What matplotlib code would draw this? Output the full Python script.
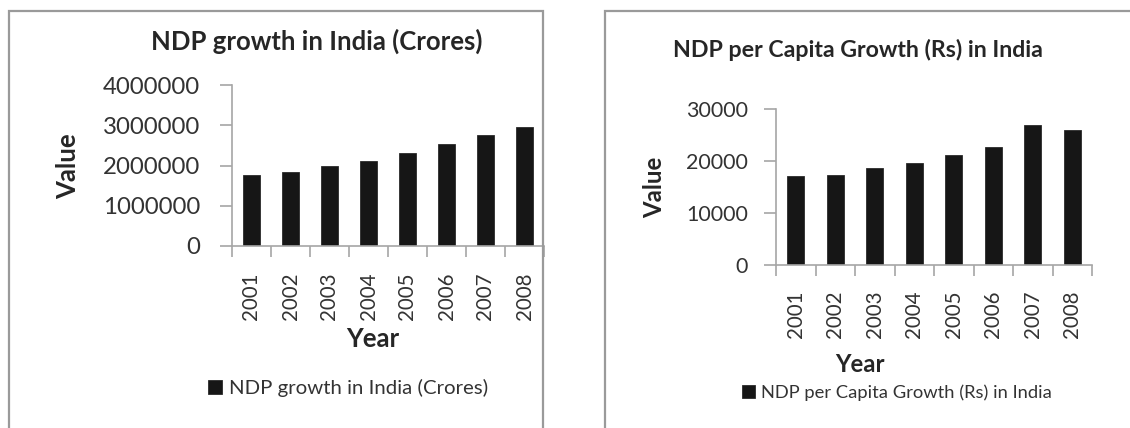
import matplotlib
matplotlib.use("Agg")
import matplotlib.pyplot as plt
from matplotlib.lines import Line2D

W, H = 1130, 428

years = ["2001", "2002", "2003", "2004", "2005", "2006", "2007", "2008"]
ndp_crores = [1765000, 1830000, 1990000, 2110000, 2320000, 2540000, 2770000, 2950000]
ndp_per_capita = [17100, 17400, 18600, 19550, 21100, 22750, 27000, 25950]

left_ticks = [0, 1000000, 2000000, 3000000, 4000000]
right_ticks = [0, 10000, 20000, 30000]

AXIS_GREY = "#a6a6a6"
FRAME_GREY = "#9a9a9a"
TEXT = "#333333"
BAR = "#161616"

plt.rcParams["font.family"] = ["Lato", "DejaVu Sans"]


def fx(x):
    return x / W


def fy(y):
    return 1 - y / H


def frame(fig, x0, y0, x1, y1):
    # grey chart-area border, drawn in image pixel coordinates
    xs = [fx(x0), fx(x0), fx(x1), fx(x1)]
    ys = [fy(y1), fy(y0), fy(y0), fy(y1)]
    fig.add_artist(Line2D(xs, ys, transform=fig.transFigure,
                          color=FRAME_GREY, lw=1.6, solid_joinstyle="miter"))


def bar_panel(fig, rect, values, ticks, title, legend_text, sizes, spots):
    left, top, right, bottom = rect
    ax = fig.add_axes([fx(left), fy(bottom), fx(right) - fx(left), (bottom - top) / H])
    n = len(values)
    xs = list(range(n))
    bars = ax.bar(xs, values, width=0.42, color=BAR, edgecolor="#2a2a2a", lw=0.6,
                  label=legend_text)
    ax.set_xlim(-0.5, n - 0.5)
    ax.set_ylim(0, ticks[-1])
    ax.set_yticks(ticks)
    ax.set_yticklabels([str(t) for t in ticks], fontsize=sizes["ytick"], color=TEXT)
    ax.tick_params(axis="y", length=9, width=1.2, color=AXIS_GREY, pad=sizes["ypad"])

    # category labels in the middle, tick marks on the category boundaries
    ax.set_xticks(xs)
    ax.set_xticklabels(years, rotation=90, fontsize=sizes["xtick"], color=TEXT)
    ax.tick_params(axis="x", which="major", length=0, pad=sizes["xpad"])
    ax.set_xticks([i - 0.5 for i in range(n + 1)], minor=True)
    ax.tick_params(axis="x", which="minor", length=8, width=1.2, color=AXIS_GREY)

    for side in ("top", "right"):
        ax.spines[side].set_visible(False)
    for side in ("left", "bottom"):
        ax.spines[side].set_color(AXIS_GREY)
        ax.spines[side].set_linewidth(1.2)

    fig.text(fx(spots["title"][0]), fy(spots["title"][1]), title, ha="center",
             va="center", fontsize=sizes["title"], fontweight="bold", color="#262626")
    fig.text(fx(spots["ylabel"][0]), fy(spots["ylabel"][1]), "Value", rotation=90,
             ha="center", va="center", fontsize=sizes["label"], fontweight="bold",
             color="#262626")
    fig.text(fx(spots["xlabel"][0]), fy(spots["xlabel"][1]), "Year", ha="center",
             va="center", fontsize=sizes["label"], fontweight="bold", color="#262626")
    fig.legend(handles=[bars], labels=[legend_text], loc="center left",
               bbox_to_anchor=(fx(spots["legend"][0]), fy(spots["legend"][1])),
               frameon=False, borderpad=0, borderaxespad=0, handlelength=0.7,
               handleheight=0.7, handletextpad=0.35, fontsize=sizes["legend"],
               labelcolor=TEXT)
    return ax


fig = plt.figure(figsize=(W / 100, H / 100), dpi=100)

frame(fig, 9, 11, 543, H + 5)
frame(fig, 605, 11, W + 5, H + 5)

bar_panel(fig, (232, 85, 544, 246), ndp_crores, left_ticks,
          "NDP growth in India (Crores)", "NDP growth in India (Crores)",
          sizes={"ytick": 17.3, "xtick": 14.8, "title": 18.5, "label": 18.5,
                 "legend": 14.7, "ypad": 14, "xpad": 19},
          spots={"title": (317, 41), "ylabel": (68, 166), "xlabel": (373, 339),
                 "legend": (208, 388)})

bar_panel(fig, (776, 109, 1092, 265), ndp_per_capita, right_ticks,
          "NDP per Capita Growth (Rs) in India", "NDP per Capita Growth (Rs) in India",
          sizes={"ytick": 15.4, "xtick": 14.8, "title": 16.7, "label": 17.2,
                 "legend": 13.2, "ypad": 11, "xpad": 18},
          spots={"title": (858, 50), "ylabel": (655, 187), "xlabel": (860, 364),
                 "legend": (742, 393)})

fig.savefig("out.png", dpi=100, facecolor="white")
